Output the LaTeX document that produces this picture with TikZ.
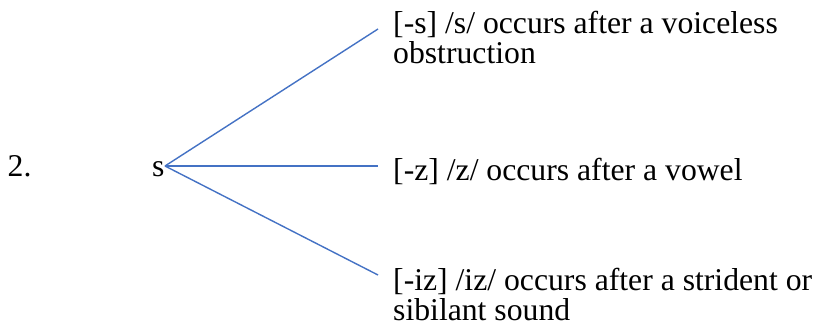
\documentclass[tikz,border=0pt]{standalone}
\usepackage{fontspec}
\setmainfont{Liberation Serif}
\definecolor{wordblue}{HTML}{4472C4}
\begin{document}
\begin{tikzpicture}[x=1pt,y=-1pt,
  txt/.style={font=\fontsize{31.7}{30}\selectfont, inner sep=0pt, anchor=base west, align=left},
  branch/.style={draw=wordblue, line width=1.4pt}]
\useasboundingbox (0,0) rectangle (817,328);
\node[txt] (num) at (7.5,177) {2.};
\node[txt] (s) at (152,177) {s};
\coordinate (o) at (165,166);
\coordinate (e1) at (378,29);
\coordinate (e2) at (378,166);
\coordinate (e3) at (378,275);
\node[txt] (t1) at (393,64) {[-s] /s/ occurs after a voiceless\\obstruction};
\node[txt] (t2) at (393,181) {[-z] /z/ occurs after a vowel};
\node[txt] (t3) at (393,321) {[-iz] /iz/ occurs after a strident or\\sibilant sound};
\draw[branch] (o) -- (e1);
\draw[branch] (o) -- (e2);
\draw[branch] (o) -- (e3);
\end{tikzpicture}
\end{document}
